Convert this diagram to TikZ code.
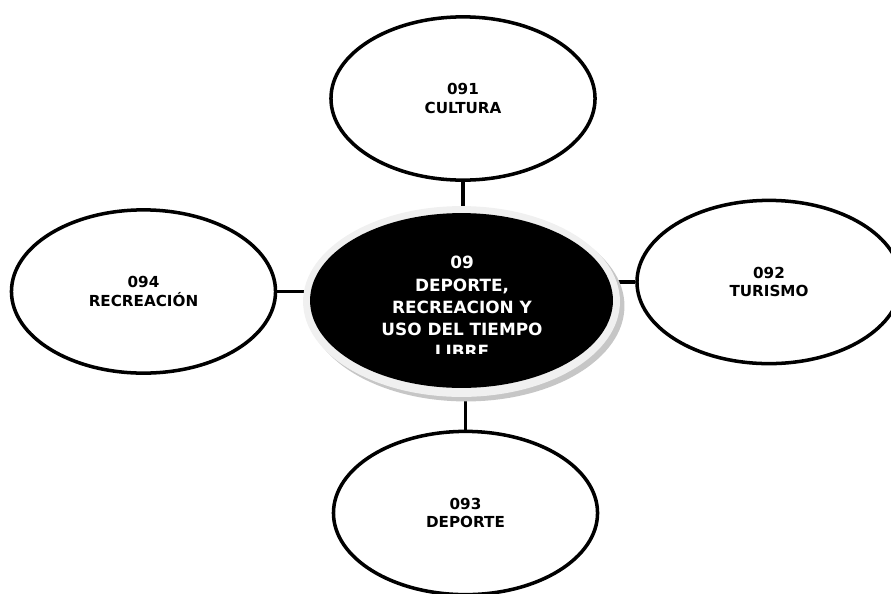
\documentclass[tikz,border=0pt]{standalone}
\usepackage{fontspec}
\setmainfont{DejaVu Sans}
\usetikzlibrary{shapes.geometric, backgrounds}

\begin{document}
\begin{tikzpicture}[
        x=0.025cm, y=-0.025cm,
        area/.style={ellipse, draw, line width=2.5pt, fill=white, minimum width=6.6cm, minimum height=4.08cm, inner sep=0pt, align=center, font=\bfseries\fontsize{10.8}{13}\selectfont},
        rim/.style={ellipse, minimum width=7.92cm, minimum height=4.77cm, inner sep=0pt},
        link/.style={line width=2.5pt}
    ]
    \clip (0,0) rectangle (891,593);

    % central ellipse with its light rim and shadow
    \node[rim, fill=gray!45] (shadow) at (466,306) {};
    \node[rim, fill=gray!12] (ring) at (461.5,301.5) {};
    \node[ellipse, fill=black, minimum width=7.57cm, minimum height=4.37cm, inner sep=0pt] (hub) at (461.5,300.5) {};
    \begin{scope}
        \clip (300,200) rectangle (625,353);
        \node[align=center, text=white, font=\bfseries\fontsize{12}{15.8}\selectfont] (hubtext) at (462,307) {09\\DEPORTE,\\RECREACION Y\\USO DEL TIEMPO\\LIBRE};
    \end{scope}

    \node[area] (cul) at (463,98.5) {091\\CULTURA};
    \node[area] (tur) at (769,282) {092\\TURISMO};
    \node[area] (dep) at (465.5,513) {093\\DEPORTE};
    \node[area] (rec) at (143.5,291.5) {094\\RECREACIÓN};

    \begin{scope}[on background layer]
        \draw[link] (cul.south) -- (cul.south |- hub.north);
        \draw[link] (tur.west) -- (tur.west -| hub.east);
        \draw[link] (dep.north) -- (dep.north |- hub.south);
        \draw[link] (rec.east) -- (rec.east -| hub.west);
    \end{scope}
\end{tikzpicture}
\end{document}
